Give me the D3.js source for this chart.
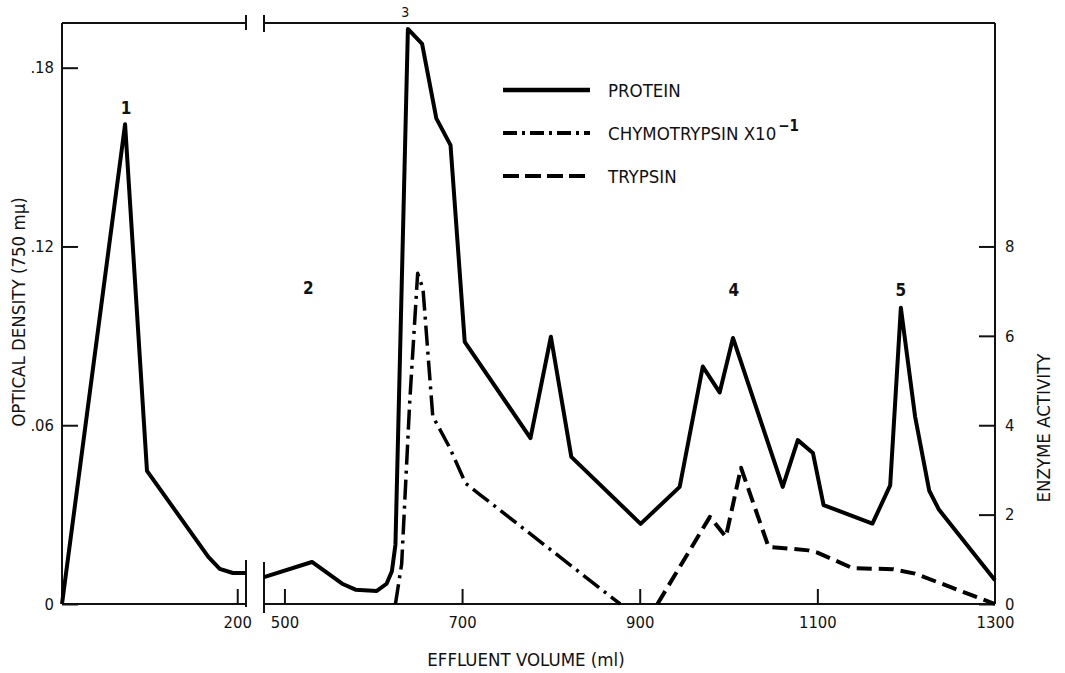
<!DOCTYPE html>
<html>
<head>
<meta charset="utf-8">
<script src="https://cdn.jsdelivr.net/npm/d3@7"></script>
<style>
  body { margin: 0; background: #fff; }
  svg { display: block; }
  text { font-family: "DejaVu Sans Condensed", "DejaVu Sans", sans-serif; font-stretch: condensed; fill: #111; }
</style>
</head>
<body>
<div id="chart"></div>
<script>
// Protein (optical density), left part of the broken axis (0 - 210 ml)
const proteinLeftVol = [0, 72, 97, 167, 180, 195, 210];
const proteinLeftOD  = [0, 0.161, 0.0447, 0.0158, 0.0118, 0.0104, 0.0104];

// Protein, right part (477 - 1300 ml)
const proteinRightVol = [477, 531, 565, 580, 604, 615, 621, 625, 639, 655, 671, 687, 703, 777, 800, 823,
                         901, 945, 971, 990, 1005, 1061, 1078, 1095, 1107, 1162, 1182, 1194, 1210, 1226, 1237, 1300];
const proteinRightOD  = [0.009, 0.0141, 0.0068, 0.0048, 0.0044, 0.0068, 0.011, 0.02, 0.193, 0.188, 0.163, 0.154, 0.088, 0.0557, 0.0897, 0.0494,
                         0.0269, 0.0393, 0.0797, 0.071, 0.0893, 0.0393, 0.055, 0.0507, 0.0332, 0.027, 0.0398, 0.0994, 0.063, 0.038, 0.0316, 0.008];

// Chymotrypsin x10^-1 (enzyme activity)
const chymoVol = [625, 632, 641, 650, 656, 667, 686, 704, 720, 878];
const chymoAct = [0, 0.9, 4.5, 7.4, 7.05, 4.2, 3.5, 2.7, 2.45, 0];

// Trypsin (enzyme activity)
const trypsinVol = [920, 979, 997, 1014, 1045, 1090, 1100, 1140, 1185, 1210, 1300];
const trypsinAct = [0, 1.95, 1.5, 3.05, 1.28, 1.2, 1.15, 0.8, 0.78, 0.68, 0];

// tick values / labels
const odTicks = [0, 0.06, 0.12, 0.18];
const odTickLabels = ["0", ".06", ".12", ".18"];
const actTicks = [0, 2, 4, 6, 8];
const volTicksLeft = [200];
const volTicksRight = [500, 700, 900, 1100, 1300];

// peak numbers (volume, optical density)
const peakNames = ["1", "2", "3", "4", "5"];
const peakVol = [73, 527, 636, 1006, 1194];
const peakOD = [0.1665, 0.106, 0.1985, 0.1054, 0.1054];

const legendNames = ["PROTEIN", "CHYMOTRYPSIN X10", "TRYPSIN"];

const width = 1065, height = 673;
const svg = d3.select("#chart").append("svg")
  .attr("width", width).attr("height", height);

const xLeft = d3.scaleLinear().domain([0, 210]).range([62, 246]);
const xRight = d3.scaleLinear().domain([477, 1300]).range([264, 995]);
const yOD = d3.scaleLinear().domain([0, 0.195]).range([604, 23]);
const yAct = d3.scaleLinear().domain([0, 13]).range([604, 23]);

const xAny = v => v <= 210 ? xLeft(v) : xRight(v);

// frame
const frame = svg.append("g").attr("stroke", "#111").attr("stroke-width", 2).attr("fill", "none");
const y0 = yOD(0), yTop = yOD(0.195);
frame.append("line").attr("x1", xLeft(0)).attr("x2", xLeft(0)).attr("y1", yTop).attr("y2", y0);
frame.append("line").attr("x1", xRight(1300)).attr("x2", xRight(1300)).attr("y1", yTop).attr("y2", y0);
frame.append("line").attr("x1", xLeft(0)).attr("x2", xLeft(210)).attr("y1", yTop).attr("y2", yTop);
frame.append("line").attr("x1", xRight(477)).attr("x2", xRight(1300)).attr("y1", yTop).attr("y2", yTop);
frame.append("line").attr("x1", xLeft(0)).attr("x2", xLeft(210)).attr("y1", y0).attr("y2", y0);
frame.append("line").attr("x1", xRight(477)).attr("x2", xRight(1300)).attr("y1", y0).attr("y2", y0);
// break marks
frame.append("line").attr("x1", xLeft(210)).attr("x2", xLeft(210)).attr("y1", yTop - 8).attr("y2", yTop + 7);
frame.append("line").attr("x1", xRight(477)).attr("x2", xRight(477)).attr("y1", yTop - 8).attr("y2", yTop + 9);
frame.append("line").attr("x1", xLeft(210)).attr("x2", xLeft(210)).attr("y1", y0 - 44).attr("y2", y0 + 3);
frame.append("line").attr("x1", xRight(477)).attr("x2", xRight(477)).attr("y1", y0 - 42).attr("y2", y0 + 9);

// axes
function styleAxis(g) {
  g.select(".domain").remove();
  g.selectAll(".tick line").attr("stroke", "#111").attr("stroke-width", 2);
  g.selectAll(".tick text").attr("font-size", 16.5).attr("fill", "#111");
}

svg.append("g").attr("transform", `translate(${xLeft(0)},0)`)
  .call(d3.axisLeft(yOD).tickValues(odTicks).tickFormat((d, i) => odTickLabels[i]).tickSize(-16).tickPadding(8))
  .call(styleAxis);

svg.append("g").attr("transform", `translate(${xRight(1300)},0)`)
  .call(d3.axisRight(yAct).tickValues(actTicks).tickSize(-16).tickPadding(10))
  .call(styleAxis);

svg.append("g").attr("transform", `translate(0,${y0})`)
  .call(d3.axisBottom(xLeft).tickValues(volTicksLeft).tickFormat(d3.format("d")).tickSize(-15).tickPadding(12))
  .call(styleAxis);

svg.append("g").attr("transform", `translate(0,${y0})`)
  .call(d3.axisBottom(xRight).tickValues(volTicksRight).tickFormat(d3.format("d")).tickSize(-15).tickPadding(12))
  .call(styleAxis)
  .call(g => g.selectAll(".tick").filter(d => d === 1300).select("line").remove());

// axis titles
svg.append("text").attr("transform", "translate(25,312) rotate(-90)")
  .attr("text-anchor", "middle").attr("font-size", 18.5)
  .text("OPTICAL DENSITY (750 mμ)");
svg.append("text").attr("transform", "translate(1050,428) rotate(-90)")
  .attr("text-anchor", "middle").attr("font-size", 18.5)
  .text("ENZYME ACTIVITY");
svg.append("text").attr("x", 526).attr("y", 666)
  .attr("text-anchor", "middle").attr("font-size", 18.5)
  .text("EFFLUENT VOLUME (ml)");

// series
const lineLeft = d3.line().x(d => xLeft(d[0])).y(d => yOD(d[1]));
const lineRight = d3.line().x(d => xRight(d[0])).y(d => yOD(d[1]));
const lineAct = d3.line().x(d => xRight(d[0])).y(d => yAct(d[1]));

const plot = svg.append("g").attr("fill", "none").attr("stroke", "#000").attr("stroke-linejoin", "round");

plot.append("path").datum(d3.zip(proteinLeftVol, proteinLeftOD))
  .attr("d", lineLeft).attr("stroke-width", 4);
plot.append("path").datum(d3.zip(proteinRightVol, proteinRightOD))
  .attr("d", lineRight).attr("stroke-width", 4);
plot.append("path").datum(d3.zip(chymoVol, chymoAct))
  .attr("d", lineAct).attr("stroke-width", 3.5).attr("stroke-dasharray", "20,6,3,6");
plot.append("path").datum(d3.zip(trypsinVol, trypsinAct))
  .attr("d", lineAct).attr("stroke-width", 4).attr("stroke-dasharray", "15,7");

// peak numbers
svg.append("g").selectAll("text").data(peakNames).join("text")
  .attr("x", (d, i) => xAny(peakVol[i]))
  .attr("y", (d, i) => yOD(peakOD[i]))
  .attr("dy", "0.35em")
  .attr("text-anchor", "middle")
  .attr("font-size", d => d === "3" ? 14 : 17)
  .attr("font-weight", d => d === "3" ? "normal" : "bold")
  .text(d => d);

// legend
const dashes = [null, "14,5,3,5", "16,6"];
const legend = svg.append("g");
legendNames.forEach((name, i) => {
  const ly = 90 + i * 43;
  legend.append("line").attr("x1", 503).attr("x2", 590).attr("y1", ly).attr("y2", ly)
    .attr("stroke", "#000").attr("stroke-width", i === 0 ? 4.5 : 4)
    .attr("stroke-dasharray", dashes[i]);
  const t = legend.append("text").attr("x", 608).attr("y", ly + 7)
    .attr("font-size", 18.5).text(name);
  if (i === 1) {
    t.append("tspan").attr("dy", -9).attr("dx", 2).attr("font-size", 15).attr("font-weight", "bold").text("−1");
  }
});
</script>
</body>
</html>
